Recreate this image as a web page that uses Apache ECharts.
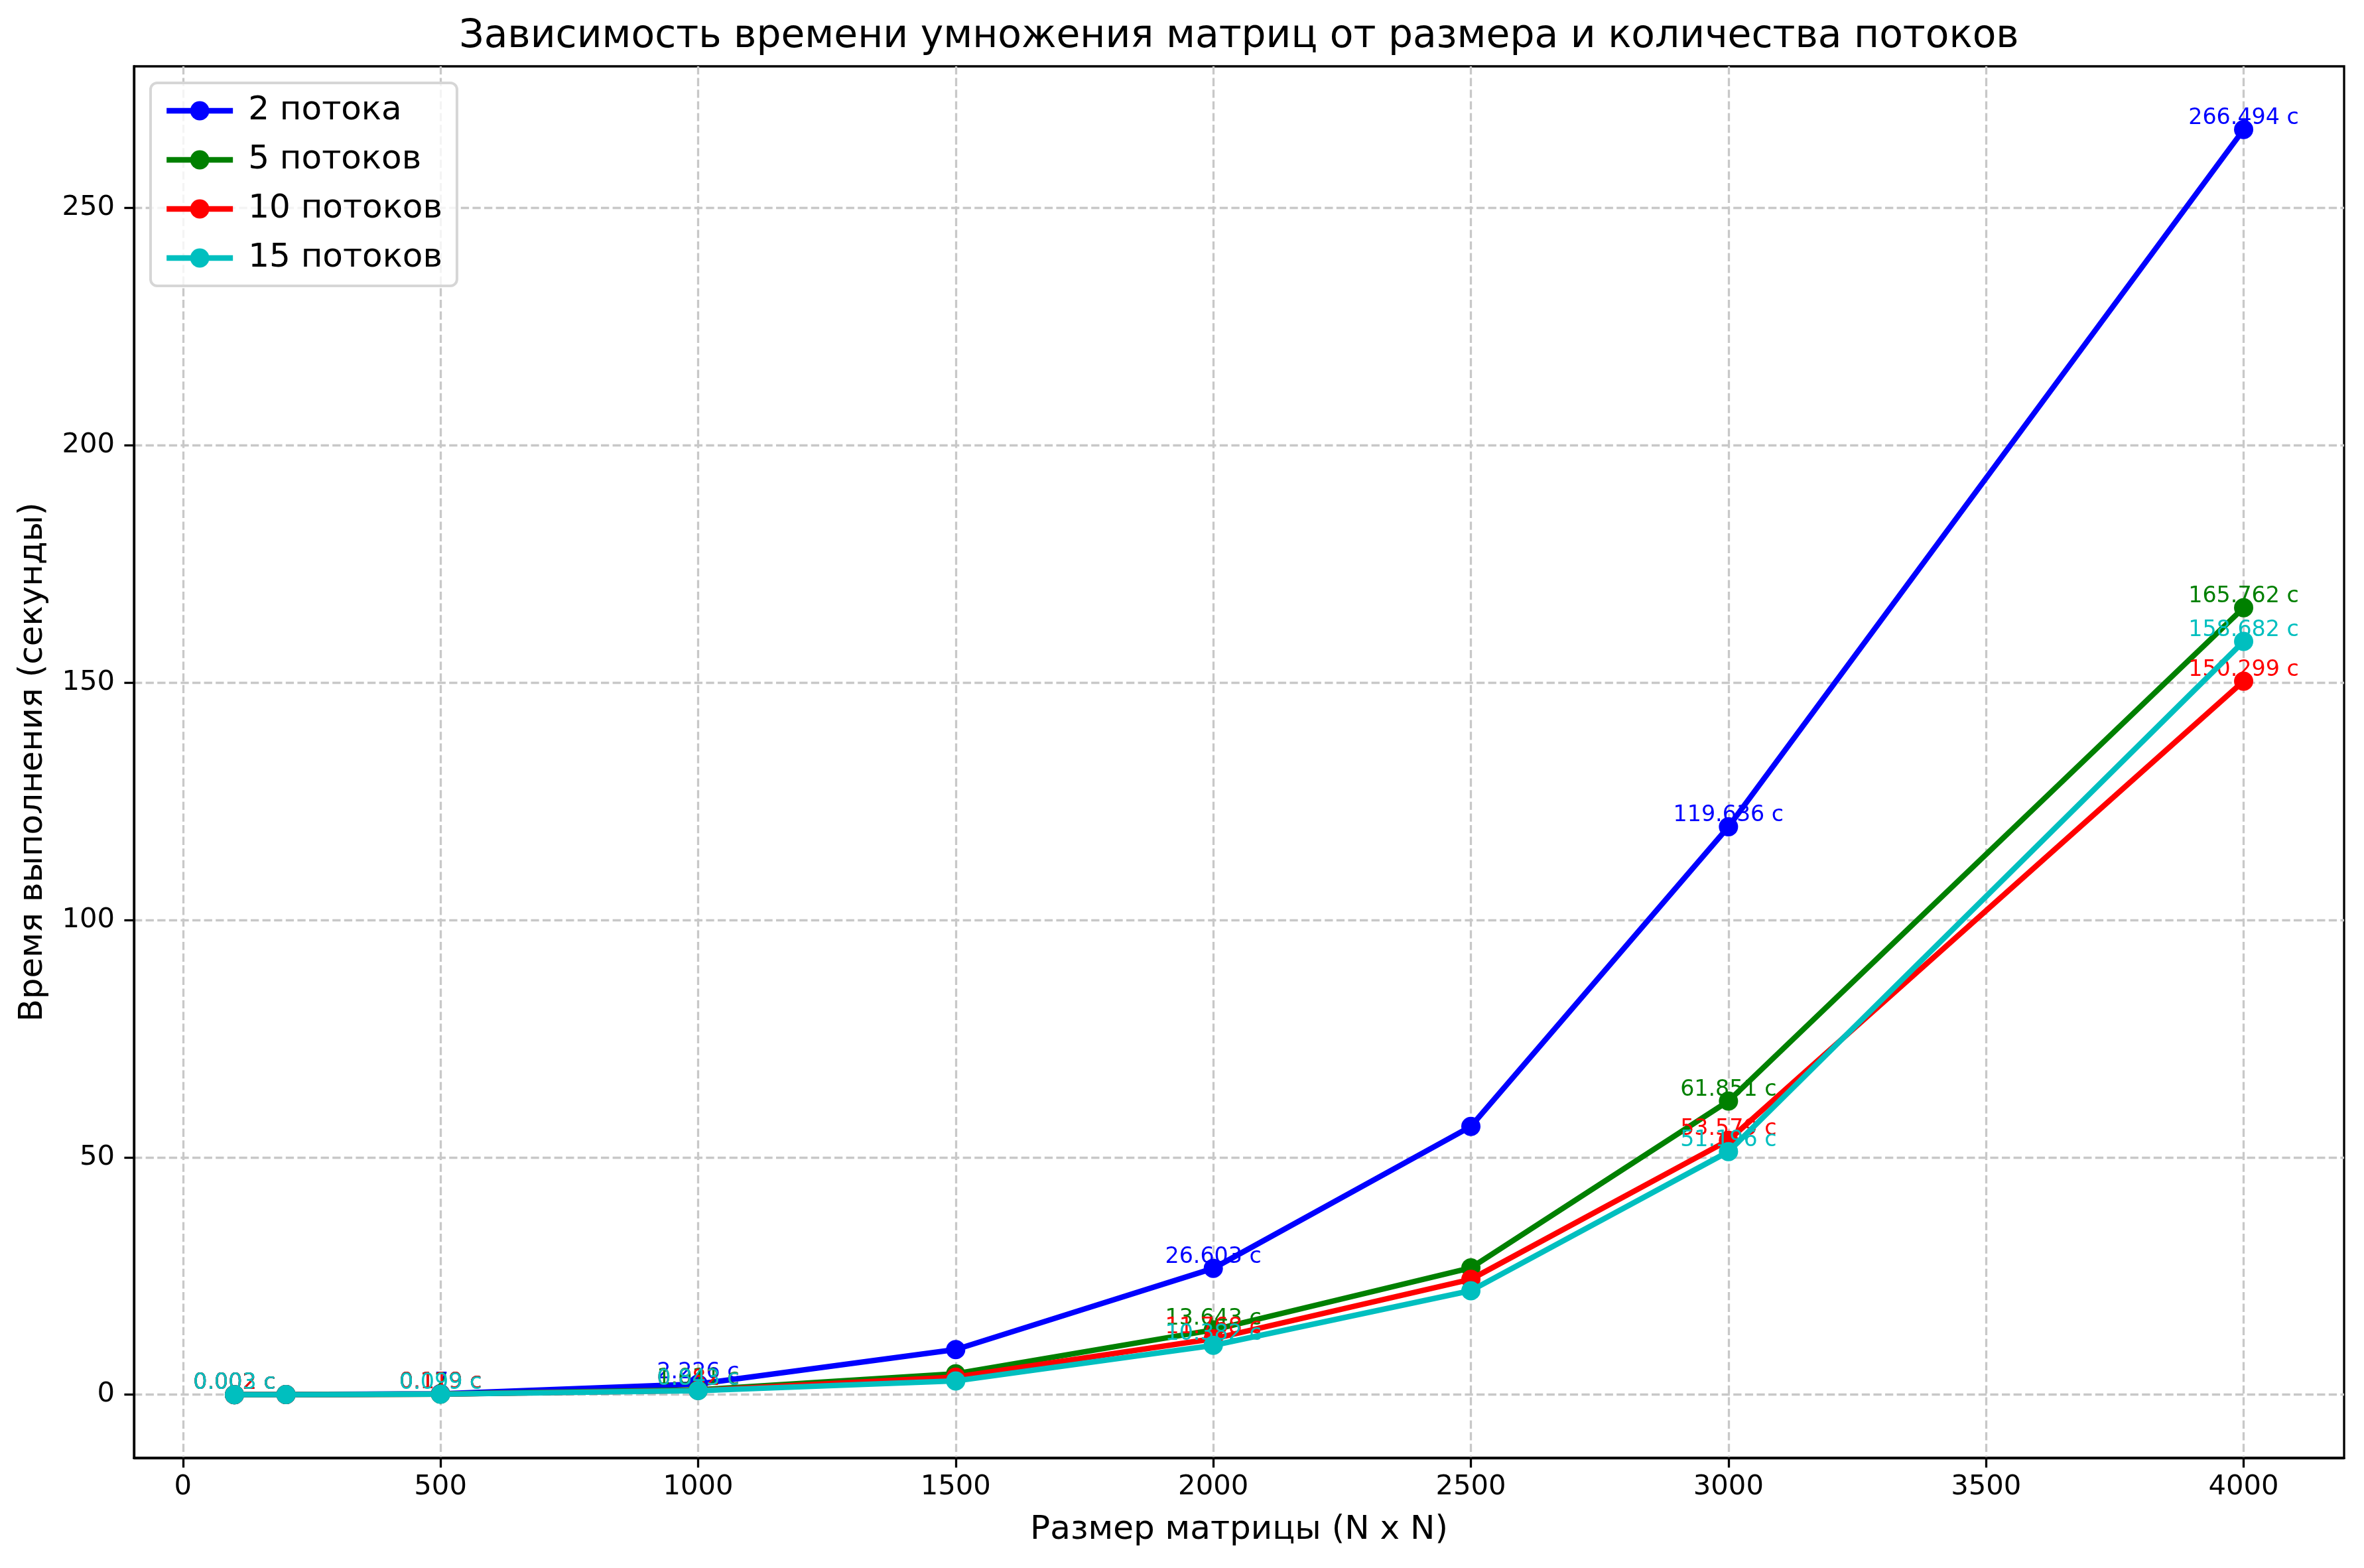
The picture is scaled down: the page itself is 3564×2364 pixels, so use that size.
<!DOCTYPE html>
<html><head><meta charset="utf-8">
<script src="https://cdn.jsdelivr.net/npm/echarts@6/dist/echarts.min.js"></script>
<style>html,body{margin:0;padding:0;background:#fff}#c{width:3564px;height:2364px}</style>
</head><body><div id="c"></div>
<script>
const sizes = [100, 200, 500, 1000, 1500, 2000, 2500, 3000, 4000];
const labeledSizes = [100, 500, 1000, 2000, 3000, 4000];
const seriesNames = ['2 потока', '5 потоков', '10 потоков', '15 потоков'];
const threads2 = [0.002, 0.018, 0.179, 2.226, 9.5, 26.603, 56.5, 119.636, 266.494];
const threads5 = [0.002, 0.010, 0.129, 1.011, 4.4, 13.643, 26.7, 61.851, 165.762];
const threads10 = [0.002, 0.008, 0.119, 0.882, 3.7, 11.768, 24.3, 53.579, 150.299];
const threads15 = [0.003, 0.007, 0.099, 0.843, 2.9, 10.382, 21.9, 51.196, 158.682];
const colors = ['#0000ff', '#008000', '#ff0000', '#00bfbf'];
const xTicks = [0, 500, 1000, 1500, 2000, 2500, 3000, 3500, 4000];
const yTicks = [0, 50, 100, 150, 200, 250];
const titleText = 'Зависимость времени умножения матриц от размера и количества потоков';
const xName = 'Размер матрицы (N x N)';
const yName = 'Время выполнения (секунды)';

const FONT = 'DejaVu Sans';
const allVals = [threads2, threads5, threads10, threads15];
const flat = allVals.flat();
const yMinD = Math.min(...flat), yMaxD = Math.max(...flat);
const yPad = (yMaxD - yMinD) * 0.05;
const xPad = (sizes[sizes.length - 1] - sizes[0]) * 0.05;

function makeData(vals) {
  return sizes.map((s, i) => {
    const item = { value: [s, vals[i]] };
    if (labeledSizes.includes(s)) item.label = { show: true };
    return item;
  });
}

const series = allVals.map((vals, k) => ({
  name: seriesNames[k],
  type: 'line',
  data: makeData(vals),
  symbol: 'circle',
  symbolSize: 29,
  lineStyle: { width: 8.3, color: colors[k] },
  itemStyle: { color: colors[k] },
  label: {
    show: false,
    position: 'top',
    distance: -14,
    color: colors[k],
    fontFamily: FONT,
    fontSize: 33.3,
    formatter: p => p.value[1].toFixed(3) + ' с'
  },
  labelLayout: { hideOverlap: false },
  z: 2 + k
}));

const chart = echarts.init(document.getElementById('c'), null, { renderer: 'canvas', devicePixelRatio: 1 });
chart.setOption({
  animation: false,
  backgroundColor: '#ffffff',
  title: {
    text: titleText,
    left: 1868,
    textAlign: 'center',
    top: 27,
    padding: 0,
    textStyle: { fontFamily: FONT, fontSize: 58.3, fontWeight: 'normal', color: '#000' }
  },
  legend: {
    orient: 'vertical',
    left: 227,
    top: 125,
    padding: [17, 22, 17, 20],
    itemWidth: 100,
    itemHeight: 36,
    itemGap: 24,
    backgroundColor: 'rgba(255,255,255,0.8)',
    borderColor: '#d6d6d6',
    borderWidth: 4,
    borderRadius: 10,
    lineStyle: { width: 8.3 },
    textStyle: { fontFamily: FONT, fontSize: 50, color: '#000', lineHeight: 50, padding: [0, 0, 0, 18] },
    data: seriesNames
  },
  grid: {
    left: 202, right: 30, top: 100, bottom: 166,
    show: true, borderColor: '#000', borderWidth: 3.3, backgroundColor: 'transparent',
    containLabel: false
  },
  xAxis: {
    type: 'value',
    min: sizes[0] - xPad,
    max: sizes[sizes.length - 1] + xPad,
    splitNumber: 8,
    name: xName,
    nameLocation: 'middle',
    nameGap: 84,
    nameTextStyle: { fontFamily: FONT, fontSize: 50, color: '#000' },
    axisLine: { show: true, onZero: false, lineStyle: { color: '#000', width: 3.3 } },
    axisTick: { show: true, length: 14.6, lineStyle: { color: '#000', width: 3.3 }, customValues: xTicks },
    axisLabel: { show: true, margin: 23, fontFamily: FONT, fontSize: 41.7, color: '#000', customValues: xTicks, formatter: v => String(v) },
    splitLine: { show: true, lineStyle: { color: '#c8c8c8', width: 3.3, type: [12.3, 5.3] } }
  },
  yAxis: {
    type: 'value',
    min: yMinD - yPad,
    max: yMaxD + yPad,
    splitNumber: 6,
    name: yName,
    nameLocation: 'middle',
    nameGap: 127,
    nameRotate: 90,
    nameTextStyle: { fontFamily: FONT, fontSize: 50, color: '#000' },
    axisLine: { show: true, onZero: false, lineStyle: { color: '#000', width: 3.3 } },
    axisTick: { show: true, length: 14.6, lineStyle: { color: '#000', width: 3.3 }, customValues: yTicks },
    axisLabel: { show: true, margin: 29, fontFamily: FONT, fontSize: 41.7, color: '#000', customValues: yTicks, formatter: v => String(v) },
    splitLine: { show: true, lineStyle: { color: '#c8c8c8', width: 3.3, type: [12.3, 5.3] } }
  },
  series: series
});
</script></body></html>
